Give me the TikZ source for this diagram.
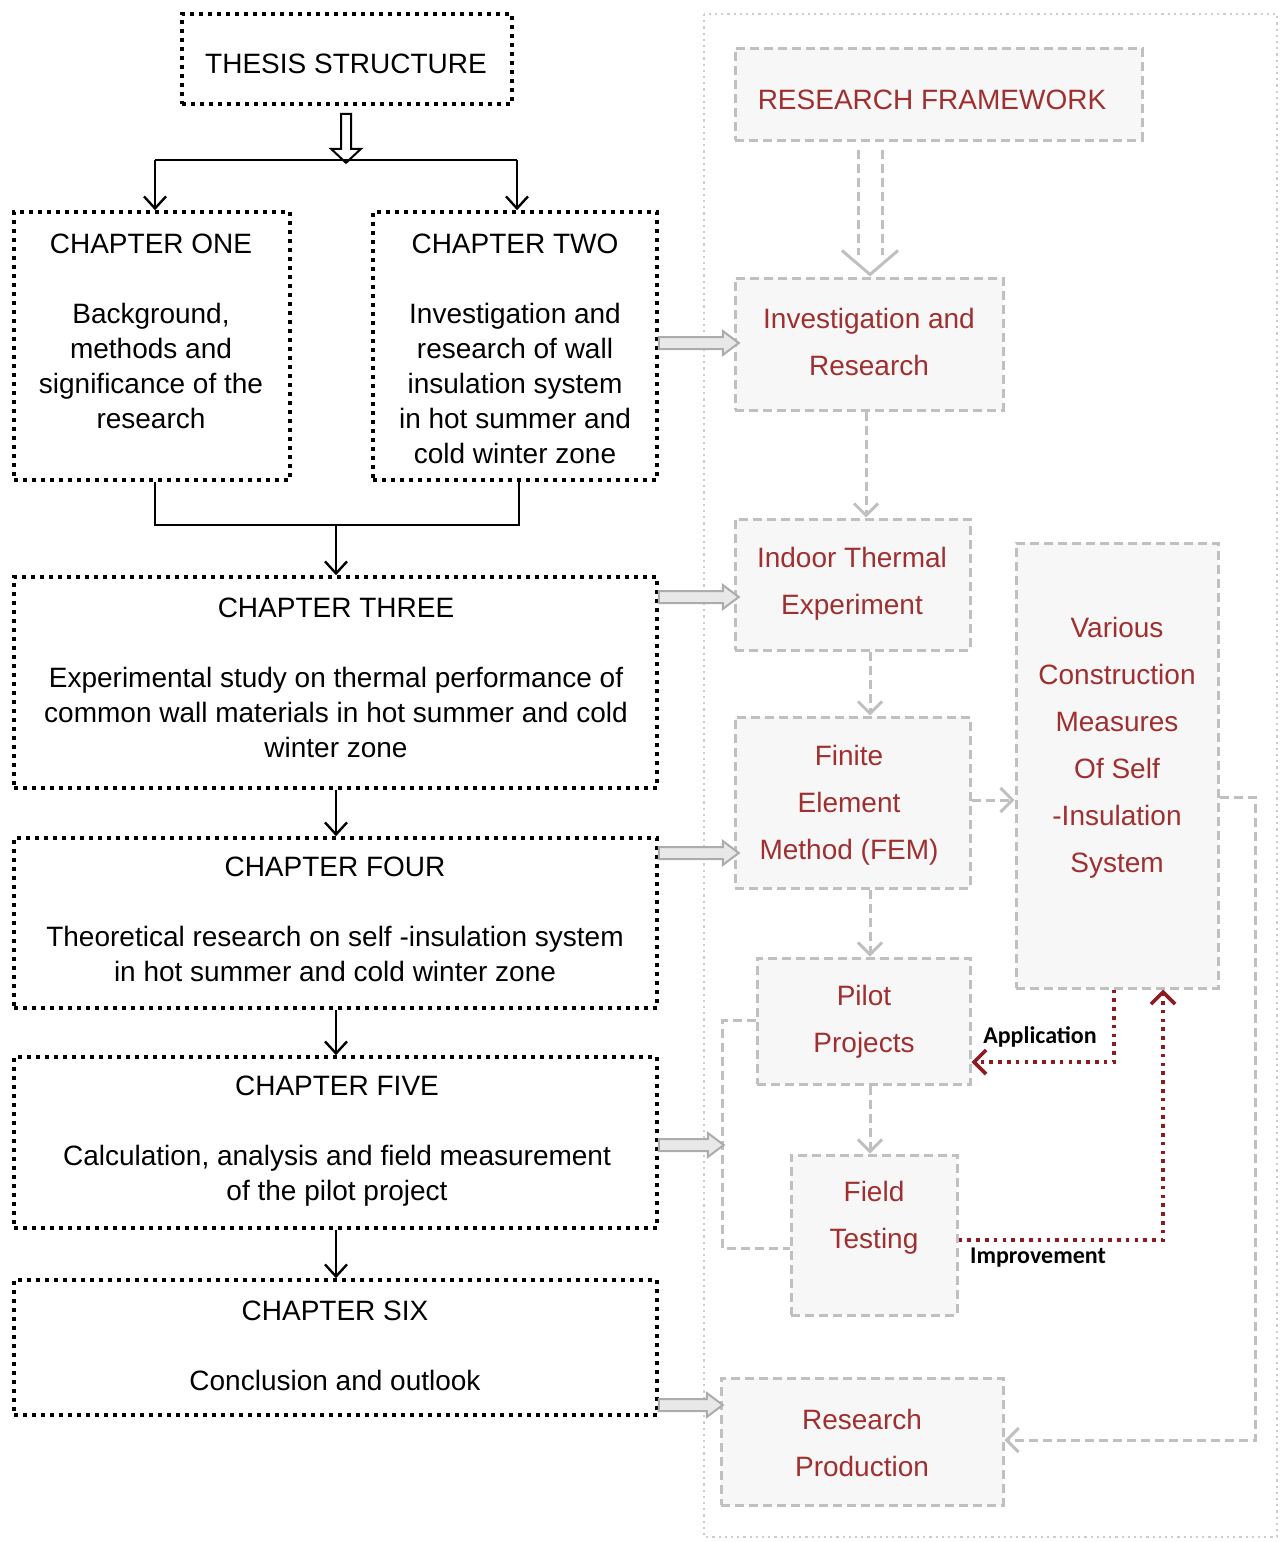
\documentclass[tikz,border=0pt]{standalone}
\usepackage{fontspec}
\setmainfont{Liberation Sans}
\newfontfamily\labfont{Carlito}
\usetikzlibrary{arrows.meta}
\definecolor{rtext}{RGB}{160,48,48}
\definecolor{rline}{RGB}{140,28,34}
\definecolor{gline}{RGB}{192,192,192}
\definecolor{gfill}{RGB}{247,247,247}
\definecolor{frame}{RGB}{205,205,205}
\newcommand\hollowR[2]{\draw[hollowg] #1 ++(0,-6) -- ++(#2,0) -- ++(0,-6) -- ++(16,12) -- ++(-16,12) -- ++(0,-6) -- ++(-#2,0) -- cycle;}
\begin{document}
\begin{tikzpicture}[x=0.5pt,y=-0.5pt,
 chbox/.style={draw=black, line width=1.8pt, dash pattern=on 1.8pt off 2.7pt, inner sep=0pt},
 chtext/.style={align=center, font=\fontsize{14pt}{17.5pt}\selectfont, inner sep=0pt},
 gbox/.style={draw=gline, fill=gfill, line width=1.5pt, dash pattern=on 4.5pt off 2.5pt, inner sep=0pt},
 rtextst/.style={align=center, text=rtext, font=\fontsize{14pt}{23.5pt}\selectfont, inner sep=0pt},
 blk/.style={draw=black, line width=1.2pt},
 blkarr/.style={blk, -{Straight Barb[length=6pt,width=11pt]}},
 hollowk/.style={draw=black, line width=1pt, fill=white, line join=miter},
 hollowg/.style={draw=gray!65, line width=1pt, fill=gray!18, line join=miter},
 gdash/.style={draw=gline, line width=1.5pt, dash pattern=on 4.5pt off 2.5pt},
 gdarr/.style={gdash, -{Straight Barb[length=6pt,width=12pt]}},
 gsolid/.style={draw=gline, line width=1.5pt},
 rdot/.style={draw=rline, line width=1.8pt, dash pattern=on 1.8pt off 2.6pt},
 rdarr/.style={rdot, -{Straight Barb[length=6pt,width=12pt]}},
 lab/.style={font=\labfont\bfseries\fontsize{12pt}{14pt}\selectfont, inner sep=0pt}
]
\useasboundingbox (0,0) rectangle (1282,1542);
% outer frame of research framework
\draw[draw=frame, line width=1.1pt, dash pattern=on 1.1pt off 2pt] (704,14) rectangle (1277,1537);

% ---------- left column ----------
\node[chbox, minimum width=165pt, minimum height=45pt] (thesis) at (347,59) {};
\node[chtext] (thesis-t) at (346,64) {THESIS STRUCTURE};

\node[chbox, minimum width=138pt, minimum height=134pt] (ch1) at (152,346) {};
\node[chtext] (ch1-t) at (151,331) {CHAPTER ONE\\[17.5pt]Background,\\methods and\\significance of the\\research};

\node[chbox, minimum width=142pt, minimum height=134pt] (ch2) at (515,346) {};
\node[chtext] (ch2-t) at (515,348.5) {CHAPTER TWO\\[17.5pt]Investigation and\\research of wall\\insulation system\\in hot summer and\\cold winter zone};

\node[chbox, minimum width=321.5pt, minimum height=105.5pt] (ch3) at (335.5,682.5) {};
\node[chtext] (ch3-t) at (336,678) {CHAPTER THREE\\[17.5pt]Experimental study on thermal performance of\\common wall materials in hot summer and cold\\winter zone};

\node[chbox, minimum width=321.5pt, minimum height=85pt] (ch4) at (335.5,923) {};
\node[chtext] (ch4-t) at (335,919) {CHAPTER FOUR\\[17.5pt]Theoretical research on self -insulation system\\in hot summer and cold winter zone};

\node[chbox, minimum width=321.5pt, minimum height=85.5pt] (ch5) at (335.5,1142.5) {};
\node[chtext] (ch5-t) at (337,1141) {CHAPTER FIVE\\[17.5pt]Calculation, analysis and field measurement\\of the pilot project};

\node[chbox, minimum width=321.5pt, minimum height=67.5pt] (ch6) at (335.5,1347.5) {};
\node[chtext] (ch6-t) at (335,1345.5) {CHAPTER SIX\\[17.5pt]Conclusion and outlook};

% left connectors
\coordinate (split) at (346,160);
\coordinate (bl) at (155,160);
\coordinate (brr) at (517,160);
\draw[hollowk] (thesis.south -| split) ++(-5,8) -- ++(0,35) -- ++(-10,0) -- ++(15,14) -- ++(15,-14) -- ++(-10,0) -- ++(0,-35) -- cycle;
\draw[blk] (bl) -- (brr);
\draw[blkarr] (bl) -- (bl |- ch1.north);
\draw[blkarr] (brr) -- (brr |- ch2.north);

\coordinate (j1) at (155,525);
\coordinate (j2) at (519,525);
\coordinate (jm) at (336,525);
\draw[blk] (j1 |- ch1.south) -- (j1) -- (j2) -- (j2 |- ch2.south);
\draw[blkarr] (jm) -- (jm |- ch3.north);
\draw[blkarr] (ch3.south -| jm) -- (jm |- ch4.north);
\draw[blkarr] (ch4.south -| jm) -- (jm |- ch5.north);
\draw[blkarr] (ch5.south -| jm) -- (jm |- ch6.north);

% ---------- right column ----------
\node[gbox, minimum width=203.5pt, minimum height=46pt] (rf) at (938.5,94) {};
\node[rtextst] (rf-t) at (932,100) {RESEARCH FRAMEWORK};

\node[gbox, minimum width=134pt, minimum height=66pt] (inv) at (869,344) {};
\node[rtextst] (inv-t) at (869,341.5) {Investigation and\\Research};

\node[gbox, minimum width=117.5pt, minimum height=65.5pt] (ind) at (852.5,584.5) {};
\node[rtextst] (ind-t) at (852,583.5) {Indoor Thermal\\Experiment};

\node[gbox, minimum width=117.5pt, minimum height=85.5pt] (fem) at (852.5,802.5) {};
\node[rtextst] (fem-t) at (849,805) {Finite\\Element\\Method (FEM)};

\node[gbox, minimum width=106.5pt, minimum height=63pt] (pil) at (863.5,1021) {};
\node[rtextst] (pil-t) at (864,1021.5) {Pilot\\Projects};

\node[gbox, minimum width=83pt, minimum height=80pt] (fld) at (874,1235) {};
\node[rtextst] (fld-t) at (874,1218) {Field\\Testing};

\node[gbox, minimum width=101pt, minimum height=222.5pt] (var) at (1117,765.5) {};
\node[rtextst] (var-t) at (1117,748) {Various\\Construction\\Measures\\Of Self\\-Insulation\\System};

\node[gbox, minimum width=141pt, minimum height=63.5pt] (rp) at (862,1441.5) {};
\node[rtextst] (rp-t) at (862,1443) {Research\\Production};

% right connectors
\coordinate (dl) at (858,0);
\coordinate (dr) at (882,0);
\coordinate (dtip) at (870,0);
\draw[gdash] (rf.south -| dl) ++(0,8) -- ++(0,105);
\draw[gdash] (rf.south -| dr) ++(0,8) -- ++(0,105);
\draw[gsolid] (inv.north -| dtip) ++(-28,-26) -- ++(28,24) -- ++(28,-24);
\coordinate (cx) at (870,0);
\coordinate (cx2) at (866,0);
\draw[gdarr] (inv.south -| cx2) -- (ind.north -| cx2);
\draw[gdarr] (ind.south -| cx) -- (fem.north -| cx);
\draw[gdarr] (fem.south -| cx) -- (pil.north -| cx);
\draw[gdarr] (pil.south -| cx) -- (fld.north -| cx);
\coordinate (fy) at (0,800);
\draw[gdarr] (fem.east |- fy) -- (var.west |- fy);
\coordinate (vr) at (1255,797);
\coordinate (vr2) at (1255,1440);
\draw[gdarr] (var.east |- vr) -- (vr) -- (vr2) -- (rp.east |- vr2);
\coordinate (bk1) at (722,1020);
\coordinate (bk2) at (722,1248);
\draw[gdash] (pil.west |- bk1) -- (bk1) -- (bk2) -- (fld.west |- bk2);

% hollow arrows chapter -> framework
\coordinate (h2) at (0,343);
\coordinate (h3) at (0,597);
\coordinate (h4) at (0,853);
\coordinate (h5) at (0,1145);
\coordinate (h6) at (0,1405);
\hollowR{(ch2.east |- h2)}{64}
\hollowR{(ch3.east |- h3)}{64}
\hollowR{(ch4.east |- h4)}{64}
\hollowR{(ch5.east |- h5)}{49}
\hollowR{(ch6.east |- h6)}{48}

% application / improvement
\coordinate (ap) at (1114,1062);
\draw[rdarr] (var.south -| ap) -- (ap) -- (pil.east |- ap);
\node[lab] (ap-l) at (1040,1037) {Application};
\coordinate (im) at (1163,1240);
\draw[rdarr] (fld.east |- im) -- (im) -- (var.south -| im);
\node[lab] (im-l) at (1038,1258) {Improvement};
\end{tikzpicture}
\end{document}
